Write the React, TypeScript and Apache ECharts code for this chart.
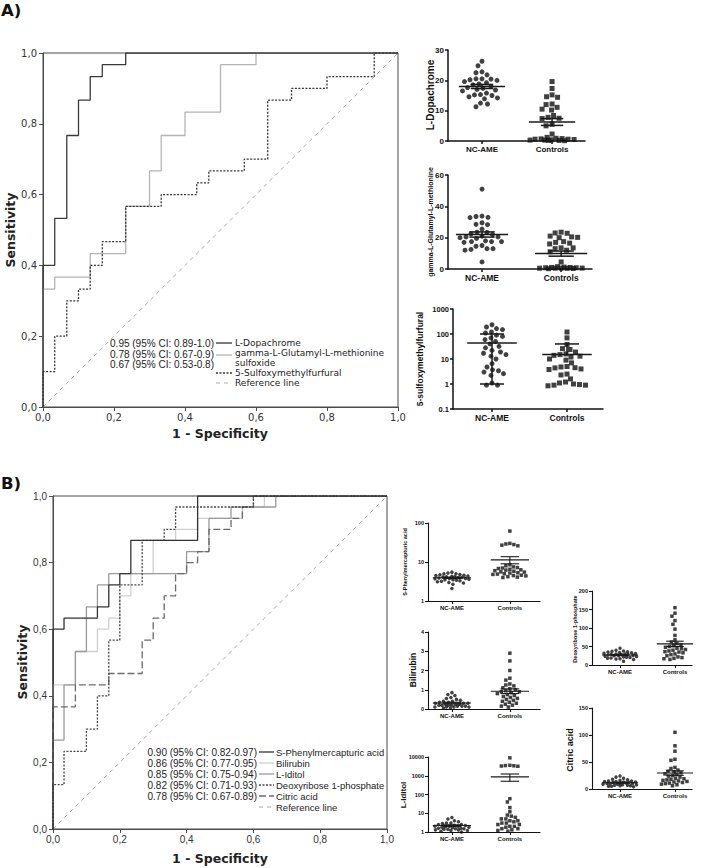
import React, { useEffect, useRef } from "react";
import * as echarts from "echarts";

// ---------------- DATA ----------------
const groups = ["NC-AME", "Controls"];

// Panel A ROC curves [1-specificity, sensitivity] (step corners)
const rocDopachrome = [[0,0],[0,0.4],[0.033,0.533],[0.067,0.767],[0.1,0.867],[0.133,0.933],[0.167,0.967],[0.233,1],[1,1]];
const rocGamma = [[0,0],[0,0.333],[0.033,0.367],[0.133,0.433],[0.233,0.567],[0.3,0.667],[0.333,0.767],[0.4,0.833],[0.5,0.967],[0.6,1],[1,1]];
const rocSulf = [[0,0],[0,0.1],[0.033,0.2],[0.067,0.3],[0.1,0.333],[0.133,0.4],[0.167,0.467],[0.233,0.567],[0.333,0.6],[0.433,0.633],[0.467,0.667],[0.567,0.7],[0.633,0.867],[0.7,0.9],[0.8,0.933],[0.933,1],[1,1]];
const refLine = [[0,0],[1,1]];

// Panel B ROC curves
const rocSph = [[0,0],[0,0.6],[0.033,0.633],[0.133,0.667],[0.167,0.733],[0.2,0.767],[0.233,0.867],[0.433,1],[1,1]];
const rocBili = [[0,0],[0,0.433],[0.067,0.533],[0.133,0.6],[0.167,0.633],[0.2,0.7],[0.233,0.767],[0.3,0.867],[0.367,0.9],[0.433,0.933],[0.567,0.967],[0.633,1],[1,1]];
const rocIdit = [[0,0],[0,0.267],[0.033,0.433],[0.067,0.533],[0.1,0.667],[0.133,0.733],[0.167,0.767],[0.4,0.833],[0.467,0.933],[0.533,0.967],[0.667,1],[1,1]];
const rocDeoxy = [[0,0],[0,0.133],[0.033,0.233],[0.1,0.3],[0.133,0.4],[0.167,0.567],[0.2,0.733],[0.267,0.867],[0.333,0.9],[0.367,0.967],[0.6,1],[1,1]];
const rocCitric = [[0,0],[0,0.367],[0.067,0.433],[0.167,0.467],[0.267,0.567],[0.3,0.633],[0.333,0.7],[0.367,0.767],[0.4,0.8],[0.433,0.833],[0.467,0.9],[0.533,0.933],[0.567,0.967],[0.6,1],[1,1]];

const legendA = ["0.95 (95% CI: 0.89-1.0)", "0.78 (95% CI: 0.67-0.9)", "0.67 (95% CI: 0.53-0.8)"];
const legendANames = ["L-Dopachrome", "gamma-L-Glutamyl-L-methionine", "sulfoxide", "5-Sulfoxymethylfurfural", "Reference line"];
const legendB = ["0.90 (95% CI: 0.82-0.97)", "0.86 (95% CI: 0.77-0.95)", "0.85 (95% CI: 0.75-0.94)", "0.82 (95% CI: 0.71-0.93)", "0.78 (95% CI: 0.67-0.89)"];
const legendBNames = ["S-Phenylmercapturic acid", "Bilirubin", "L-Iditol", "Deoxyribose 1-phosphate", "Citric acid", "Reference line"];

// Scatter (dot plot) values
const dopaNC = [26.3,24.8,22.8,22.5,21.8,20.5,20.5,20.4,20.2,20.0,19.6,19.2,18.8,18.5,18.0,17.6,17.4,17.0,16.8,16.5,15.8,15.3,15.2,15.0,14.6,14.2,13.9,12.5,12.2,11.3];
const dopaCtrl = [19.6,17.3,15.2,14.6,14.4,12.2,12.0,11.1,10.5,10.2,8.4,7.8,7.5,7.4,5.5,5.0,2.3,1.2,0.9,0.8,0.7,0.6,0.6,0.5,0.4,0.3,0.3,0.2,0.2,0.1];
const gammaNC = [51,33.8,33.5,33,32.8,29.5,28.5,28.3,25.5,23.5,23.3,22.5,22,21,20.5,20.5,20,19.5,18,17.5,17.5,17.5,17,15,14.5,13,13,12.5,12,4.5];
const gammaCtrl = [23.5,23,22.8,21,20.5,20.2,20,17.5,17,16.5,16,13.5,13.5,13,12,11,4.5,1.5,1.2,1,1,0.8,0.8,0.6,0.5,0.5,0.5,0.4,0.3,0.2];
const sulfNC = [235,190,165,150,120,110,90,80,70,60,50,40,32,28,22,19,17,15,13,10,6.5,4.8,3.7,3.4,3.0,2.6,2.2,1.1,0.9,0.9];
const sulfCtrl = [120,70,38,26,24,19,16,15,14,13,12,10,9,7,5,4.8,4.5,4.4,4.0,3.8,2.5,2.3,1.6,1.2,1.1,1.0,0.95,0.9,0.9,0.85];
const sulfCenter = [44, 15];
const sulfLow = [1, null];
const sulfHigh = [100, 40];
const sphNC = [5.5,5.2,5.0,5.0,4.8,4.7,4.6,4.5,4.4,4.3,4.2,4.2,4.1,4.0,4.0,3.9,3.8,3.8,3.7,3.6,3.5,3.5,3.4,3.3,3.2,3.1,3.0,2.9,2.7,2.1];
const sphCtrl = [62,30,29,28,27,26,8.5,8,7.5,7.2,7,6.8,6.5,6.3,6.2,6,5.8,5.6,5.5,5.3,5.2,5,4.9,4.8,4.6,4.5,4.4,4.2,4.1,4.0];
const biliNC = [0.85,0.75,0.7,0.6,0.55,0.5,0.45,0.4,0.4,0.35,0.35,0.3,0.3,0.3,0.25,0.25,0.25,0.2,0.2,0.2,0.2,0.15,0.15,0.15,0.1,0.1,0.1,0.1,0.05,0.05];
const biliCtrl = [2.9,2.5,2.0,1.6,1.5,1.3,1.25,1.2,1.1,1.05,1.0,0.95,0.9,0.9,0.85,0.8,0.75,0.7,0.65,0.6,0.55,0.5,0.45,0.4,0.35,0.3,0.25,0.2,0.15,0.1];
const iditNC = [6,5,4,3.5,3,3,2.8,2.5,2.5,2.3,2.2,2,2,2,1.9,1.8,1.8,1.7,1.6,1.6,1.5,1.5,1.4,1.4,1.3,1.3,1.2,1.2,1.1,1.0];
const iditCtrl = [9000,3600,3500,3400,3300,3200,60,40,20,12,8,7,6,5,5,4,4,3.5,3,3,2.5,2.5,2,2,1.8,1.5,1.5,1.3,1.2,1.1];
const deoxyNC = [45,40,38,37,36,35,34,33,32,31,30,30,29,28,28,27,26,25,25,24,23,22,21,20,19,18,17,16,15,10];
const deoxyCtrl = [155,140,132,120,110,97,80,68,62,58,55,52,50,48,45,44,42,40,38,36,35,33,30,28,25,22,20,18,17,15];
const citNC = [24,22,20,18,17,16,15,15,14,14,13,13,12,12,11,11,10,10,10,9,9,8,8,7,7,6,6,5,5,4];
const citCtrl = [105,80,70,55,53,40,38,35,33,32,30,28,27,25,24,22,20,19,18,17,16,15,14,13,12,11,10,9,8,6];

// ---------------- HELPERS ----------------
const SANS = "'Liberation Sans', Arial, sans-serif";
const DEJA = "'DejaVu Sans', Verdana, sans-serif";

function meanSem(v: number[]): [number, number, number] {
  const n = v.length;
  const m = v.reduce((a, b) => a + b, 0) / n;
  const sd = Math.sqrt(v.reduce((a, b) => a + (b - m) * (b - m), 0) / (n - 1));
  const se = sd / Math.sqrt(n);
  return [m, m - se, m + se];
}

function swarm(vals: number[], toPx: (v: number) => number, dist: number, maxHalf: number): number[] {
  const order = vals.map((_, i) => i).sort((a, b) => vals[b] - vals[a]);
  const placed: [number, number][] = [];
  const res = new Array(vals.length).fill(0);
  for (const i of order) {
    const y = toPx(vals[i]);
    let chosen = 0;
    let bestScore = -1;
    const steps = Math.floor(maxHalf / 0.5) * 2 + 1;
    for (let k = 0; k < steps; k++) {
      const off = (k % 2 === 0 ? 1 : -1) * Math.ceil(k / 2) * 0.5;
      let md = Infinity;
      for (const [px, py] of placed) {
        const d = Math.hypot(px - off, py - y);
        if (d < md) md = d;
      }
      if (md >= dist) { chosen = off; break; }
      if (md > bestScore + 0.3) { bestScore = md; chosen = off; }
    }
    placed.push([chosen, y]);
    res[i] = chosen;
  }
  return res;
}

type Plot = {
  title: string; tx: number; ty: number; tsize: number;
  left: number; top: number; width: number; height: number;
  xMin: number; xMax: number;
  log: boolean; yMin: number; yMax: number; interval?: number;
  nc: number[]; ctrl: number[];
  summary?: [number, number | null, number | null][];
  sym: number; tickFont: number; catFont: number; lw: number; maxHalf: number;
};

const plots: Plot[] = [
  { title: "L-Dopachrome", tx: 430, ty: 95, tsize: 10, left: 448, top: 50, width: 137, height: 91, xMin: 0.515, xMax: 2.47, log: false, yMin: 0, yMax: 30, interval: 10, nc: dopaNC, ctrl: dopaCtrl, sym: 5, tickFont: 8, catFont: 8, lw: 1.5, maxHalf: 22 },
  { title: "gamma-L-Glutamyl-L-methionine", tx: 430, ty: 222, tsize: 7, left: 448, top: 175, width: 144, height: 94, xMin: 0.57, xMax: 2.39, log: false, yMin: 0, yMax: 60, interval: 20, nc: gammaNC, ctrl: gammaCtrl, sym: 5, tickFont: 8, catFont: 8.5, lw: 1.5, maxHalf: 22 },
  { title: "5-sulfoxymethylfurfural", tx: 420, ty: 359, tsize: 8.5, left: 453, top: 309, width: 150, height: 100, xMin: 0.48, xMax: 2.48, log: true, yMin: 0.1, yMax: 1000, nc: sulfNC, ctrl: sulfCtrl,
    summary: [[sulfCenter[0], sulfLow[0], sulfHigh[0]], [sulfCenter[1], sulfLow[1], sulfHigh[1]]], sym: 5, tickFont: 7.5, catFont: 8.5, lw: 1.5, maxHalf: 22 },
  { title: "S-Phenylmercapturic acid", tx: 405, ty: 562, tsize: 5.5, left: 428, top: 523, width: 112, height: 78, xMin: 0.587, xMax: 2.52, log: true, yMin: 1, yMax: 100, nc: sphNC, ctrl: sphCtrl, sym: 3.5, tickFont: 5.5, catFont: 6, lw: 1.1, maxHalf: 17 },
  { title: "Bilirubin", tx: 413, ty: 670, tsize: 8.5, left: 428, top: 632, width: 112, height: 77, xMin: 0.587, xMax: 2.52, log: false, yMin: 0, yMax: 4, interval: 1, nc: biliNC, ctrl: biliCtrl, sym: 3.5, tickFont: 5.5, catFont: 6, lw: 1.1, maxHalf: 17 },
  { title: "L-Iditol", tx: 403, ty: 795, tsize: 8, left: 428, top: 757, width: 112, height: 75, xMin: 0.587, xMax: 2.52, log: true, yMin: 1, yMax: 10000, nc: iditNC, ctrl: iditCtrl, sym: 3.5, tickFont: 5.5, catFont: 6, lw: 1.1, maxHalf: 17 },
  { title: "Deoxyribose 1-phosphate", tx: 575, ty: 629, tsize: 5.5, left: 592, top: 591, width: 100, height: 74, xMin: 0.49, xMax: 2.31, log: false, yMin: 0, yMax: 200, interval: 50, nc: deoxyNC, ctrl: deoxyCtrl, sym: 3.5, tickFont: 5.5, catFont: 6, lw: 1.1, maxHalf: 17 },
  { title: "Citric acid", tx: 570, ty: 750, tsize: 9, left: 592, top: 708, width: 100, height: 81, xMin: 0.49, xMax: 2.31, log: false, yMin: 0, yMax: 150, interval: 50, nc: citNC, ctrl: citCtrl, sym: 3.5, tickFont: 5.5, catFont: 6, lw: 1.1, maxHalf: 17 },
];

function txt(x: number, y: number, text: string, size: number, o: any = {}) {
  const align = o.align ?? "left";
  return {
    type: "text", x, y, rotation: o.rot ?? 0, silent: true,
    style: {
      text, fill: o.color ?? "#222",
      font: `${o.bold ? "bold " : ""}${size}px ${o.family ?? SANS}`,
      align, textAlign: align, verticalAlign: "middle", textVerticalAlign: "middle",
    },
  };
}
function seg(x1: number, y1: number, x2: number, y2: number, stroke: string, lineDash?: number[], lw = 1.3) {
  return { type: "line", silent: true, shape: { x1, y1, x2, y2 }, style: { stroke, lineWidth: lw, lineDash } };
}

function buildOption() {
  const grid: any[] = [], xAxis: any[] = [], yAxis: any[] = [], series: any[] = [], graphic: any[] = [];
  const rocFmt = (v: number) => v.toFixed(1).replace(".", ",");

  const addRoc = (box: any, family: string, curves: any[]) => {
    const gi = grid.length;
    grid.push({ ...box, show: true, borderColor: "#4a4a4a", borderWidth: 1 });
    const base = {
      gridIndex: gi, type: "value", min: 0, max: 1, interval: 0.2, splitLine: { show: false },
      axisLine: { show: true, onZero: false, lineStyle: { color: "#4a4a4a", width: 1 } },
      axisTick: { show: true, length: 4, lineStyle: { color: "#4a4a4a" } },
    };
    xAxis.push({ ...base, axisLabel: { formatter: rocFmt, fontSize: 10, fontFamily: family, color: "#333", margin: 5 } });
    yAxis.push({ ...base, axisLabel: { formatter: rocFmt, fontSize: 10, fontFamily: family, color: "#333", margin: 6 } });
    series.push({ type: "line", xAxisIndex: gi, yAxisIndex: gi, data: refLine, symbol: "none", silent: true, lineStyle: { color: "#aaaaaa", width: 1, type: [4, 4] } });
    curves.forEach((c) => series.push({
      type: "line", xAxisIndex: gi, yAxisIndex: gi, data: c.data, step: "end", symbol: "none", silent: true,
      lineStyle: { color: c.color, width: 1.3, type: c.type ?? "solid" },
    }));
  };

  addRoc({ left: 43, top: 53, width: 355, height: 354 }, DEJA, [
    { data: rocGamma, color: "#b4b4b4" },
    { data: rocSulf, color: "#333333", type: [2, 1.5] },
    { data: rocDopachrome, color: "#3a3a3a" },
  ]);
  addRoc({ left: 53, top: 496, width: 334, height: 333 }, SANS, [
    { data: rocBili, color: "#cfcfcf" },
    { data: rocIdit, color: "#9a9a9a" },
    { data: rocCitric, color: "#6a6a6a", type: [7, 3] },
    { data: rocDeoxy, color: "#444444", type: [2, 1.5] },
    { data: rocSph, color: "#333333" },
  ]);

  plots.forEach((p) => {
    const gi = grid.length;
    grid.push({ left: p.left, top: p.top, width: p.width, height: p.height });
    xAxis.push({
      gridIndex: gi, type: "value", min: p.xMin, max: p.xMax, splitLine: { show: false },
      axisLine: { show: true, onZero: false, lineStyle: { color: "#111", width: p.lw } },
      axisTick: { show: true, customValues: [1, 2], length: 3, lineStyle: { color: "#111", width: p.lw } },
      axisLabel: { customValues: [1, 2], formatter: (v: number) => groups[Math.round(v) - 1] ?? "", fontSize: p.catFont, fontWeight: "bold", fontFamily: SANS, color: "#111", margin: 4 },
    });
    const yAx: any = {
      gridIndex: gi, type: p.log ? "log" : "value", min: p.yMin, max: p.yMax, splitLine: { show: false },
      axisLine: { show: true, onZero: false, lineStyle: { color: "#111", width: p.lw } },
      axisTick: { show: true, length: 3, lineStyle: { color: "#111", width: p.lw } },
      axisLabel: { fontSize: p.tickFont, fontWeight: "bold", fontFamily: SANS, color: "#111", margin: 4,
        formatter: (v: number) => String(+(+v).toPrecision(3)) },
    };
    if (p.log) yAx.logBase = 10; else yAx.interval = p.interval;
    yAxis.push(yAx);

    const lmin = p.log ? Math.log10(p.yMin) : p.yMin, lmax = p.log ? Math.log10(p.yMax) : p.yMax;
    const toPx = (v: number) => (((p.log ? Math.log10(v) : v) - lmin) / (lmax - lmin)) * p.height;
    const pxPerX = p.width / (p.xMax - p.xMin);
    [p.nc, p.ctrl].forEach((vals, g) => {
      const offs = swarm(vals, toPx, p.sym * 1.15, p.maxHalf);
      series.push({
        type: "scatter", xAxisIndex: gi, yAxisIndex: gi, silent: true,
        symbol: g === 0 ? "circle" : "rect", symbolSize: p.sym,
        itemStyle: { color: "#111" },
        data: vals.map((v, i) => [g + 1 + offs[i] / pxPerX, v]),
      });
    });
    const summ = p.summary ?? [meanSem(p.nc), meanSem(p.ctrl)];
    series.push({
      type: "custom", xAxisIndex: gi, yAxisIndex: gi, silent: true, z: 5,
      data: summ.map((s, g) => [g + 1, s[0], s[1] ?? NaN, s[2] ?? NaN]),
      renderItem: (_params: any, api: any) => {
        const x = api.value(0), c = api.value(1), lo = api.value(2), hi = api.value(3);
        const ok = (v: number) => isFinite(v) && (!p.log || v > 0);
        const st = { stroke: "#1a1a1a", lineWidth: p.lw };
        const children: any[] = [];
        const mid = api.coord([x, c]);
        const a = api.coord([x - 0.33, c]), b = api.coord([x + 0.33, c]);
        children.push({ type: "line", shape: { x1: a[0], y1: a[1], x2: b[0], y2: b[1] }, style: st });
        [lo, hi].forEach((v) => {
          if (!ok(v)) return;
          const l = api.coord([x - 0.16, v]), r = api.coord([x + 0.16, v]);
          children.push({ type: "line", shape: { x1: l[0], y1: l[1], x2: r[0], y2: r[1] }, style: st });
          children.push({ type: "line", shape: { x1: mid[0], y1: mid[1], x2: mid[0], y2: l[1] }, style: st });
        });
        return { type: "group", children };
      },
    });
    graphic.push(txt(p.tx, p.ty, p.title, p.tsize, { bold: true, rot: Math.PI / 2, align: "center", color: "#111" }));
  });

  // Panel labels & axis titles
  graphic.push(txt(1, 10, "A)", 16.5, { bold: true, family: DEJA, color: "#111" }));
  graphic.push(txt(1, 483, "B)", 16.5, { bold: true, family: DEJA, color: "#111" }));
  graphic.push(txt(10, 230, "Sensitivity", 12.5, { bold: true, family: DEJA, rot: Math.PI / 2, align: "center", color: "#222" }));
  graphic.push(txt(220, 433, "1 - Specificity", 12.5, { bold: true, family: DEJA, align: "center", color: "#222" }));
  graphic.push(txt(22, 662, "Sensitivity", 12.5, { bold: true, family: DEJA, rot: Math.PI / 2, align: "center", color: "#222" }));
  graphic.push(txt(220, 858, "1 - Specificity", 12.5, { bold: true, family: DEJA, align: "center", color: "#222" }));

  // Legend A
  [343, 354, 364].forEach((y, i) => graphic.push(txt(214, y, legendA[i], 10, { align: "right", color: "#222" })));
  graphic.push(seg(216, 343, 232, 343, "#333333"));
  graphic.push(seg(216, 355, 232, 355, "#b4b4b4"));
  graphic.push(seg(216, 373, 232, 373, "#333333", [2, 1.5]));
  graphic.push(seg(216, 383, 232, 383, "#aaaaaa", [4, 4], 1));
  [343, 353, 363, 373, 383].forEach((y, i) => graphic.push(txt(235, y, legendANames[i], 9, { family: DEJA, color: "#222" })));

  // Legend B
  const rowsB = [752, 763, 774, 785, 796, 807];
  legendB.forEach((t, i) => graphic.push(txt(257, rowsB[i], t, 10, { align: "right", color: "#222" })));
  graphic.push(seg(259, 752, 274, 752, "#333333"));
  graphic.push(seg(259, 763, 274, 763, "#cfcfcf"));
  graphic.push(seg(259, 774, 274, 774, "#9a9a9a"));
  graphic.push(seg(259, 785, 274, 785, "#444444", [2, 1.5]));
  graphic.push(seg(259, 796, 274, 796, "#6a6a6a", [7, 3]));
  graphic.push(seg(259, 807, 274, 807, "#aaaaaa", [4, 4], 1));
  legendBNames.forEach((t, i) => graphic.push(txt(276, rowsB[i], t, 9.5, { color: "#222" })));

  return { animation: false, backgroundColor: "#ffffff", grid, xAxis, yAxis, series, graphic };
}

export default function App() {
  const ref = useRef<HTMLDivElement>(null);
  useEffect(() => {
    document.body.style.margin = "0";
    const chart = echarts.init(ref.current!, null, { renderer: "svg", width: 708, height: 868 });
    chart.setOption(buildOption() as any);
    return () => chart.dispose();
  }, []);
  return <div ref={ref} style={{ position: "absolute", left: 0, top: 0, width: 708, height: 868, background: "#fff" }} />;
}
